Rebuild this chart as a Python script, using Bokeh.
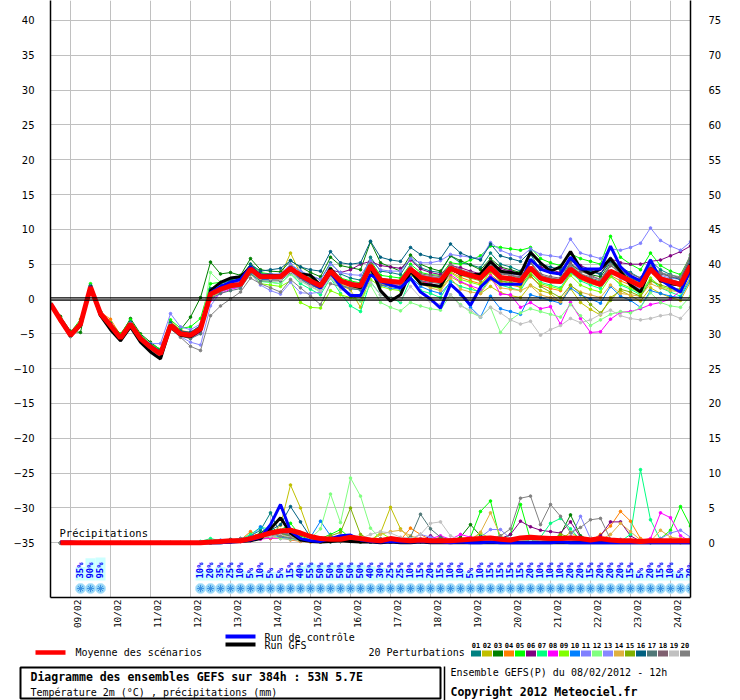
import math
from bokeh.plotting import figure
from bokeh.models import Range1d, LinearAxis, FixedTicker, Span, Label, ColumnDataSource
from bokeh.layouts import column
from bokeh.embed import file_html
from bokeh.resources import INLINE
from bokeh.core.properties import value

# ---------------------------------------------------------------- data
forecast_hours = list(range(0, 385, 6))          # hours after 08/02/2012 12h
precip_hours = forecast_hours[1:]
date_labels = ["09/02", "10/02", "11/02", "12/02", "13/02", "14/02", "15/02", "16/02",
               "17/02", "18/02", "19/02", "20/02", "21/02", "22/02", "23/02", "24/02"]
date_hours = [12 + 24 * k for k in range(len(date_labels))]
temp_ticks = list(range(-35, 45, 5))
precip_ticks = list(range(0, 80, 5))

mean_temp = [-0.7, -3.0, -5.2, -3.6, 1.7, -2.1, -3.8, -5.6, -3.6, -5.7, -6.9, -7.9, -3.8,
             -5.0, -5.2, -4.3, 0.7, 1.4, 1.9, 2.1, 4.3, 3.2, 3.2, 3.2, 4.4, 3.4, 2.6, 1.9, 4.0,
             2.6, 2.1, 1.9, 4.8, 2.7, 2.5, 2.4, 4.3, 3.1, 2.8, 2.6, 4.4, 3.8, 3.4, 3.0, 4.5,
             3.1, 2.9, 2.6, 4.5, 3.0, 2.6, 2.5, 4.3, 3.2, 2.6, 2.1, 4.0, 3.3, 2.6, 1.9, 4.3,
             2.9, 2.5, 2.1, 4.8]
control_temp = [-0.7, -3.0, -5.1, -3.5, 1.8, -2.0, -3.7, -5.5, -3.5, -5.6, -6.8, -7.8, -3.7,
                -4.9, -5.1, -4.2, 0.9, 1.8, 2.4, 2.8, 4.6, 3.4, 3.3, 3.2, 4.6, 3.2, 2.4, 1.6, 3.8,
                1.8, 0.5, 0.5, 3.5, 2.5, 2.0, 1.6, 3.0, 1.0, 0.0, -1.3, 2.1, 0.8, -0.9, 1.7, 3.1,
                2.1, 2.1, 2.1, 5.7, 4.3, 3.8, 3.6, 6.0, 4.3, 4.3, 4.3, 7.6, 4.6, 3.3, 2.6, 5.6,
                2.8, 1.8, 1.0, 4.2]
gfs_temp = [-0.7, -3.1, -5.3, -3.8, 1.9, -2.4, -4.4, -6.0, -4.0, -6.2, -7.6, -8.6, -4.0,
            -5.2, -5.4, -4.5, 1.2, 2.4, 3.0, 3.2, 4.6, 3.4, 3.4, 3.3, 4.2, 3.6, 3.4, 2.0, 4.4,
            2.6, 2.0, 1.6, 4.6, 1.2, -0.3, 0.6, 4.0, 2.2, 2.0, 1.8, 4.4, 3.6, 3.4, 3.6, 5.4,
            4.0, 3.8, 3.6, 6.7, 5.2, 4.0, 4.6, 6.8, 4.4, 3.6, 4.3, 5.8, 4.0, 2.0, 1.0, 4.4,
            2.6, 2.2, 2.0, 5.0]

t01 = [-0.7, -2.8, -5.0, -3.4, 1.9, -2.0, -3.6, -5.3, -3.3, -5.5, -6.6, -7.5, -3.5, -4.6, -4.8, -3.8, 1.5,
       2.2, 2.6, 2.8, 4.6, 3.6, 3.5, 3.4, 4.9, 4.0, 3.3, 2.8, 5.2, 3.6, 3.0, 2.7, 6.0, 4.0, 3.8, 3.5, 5.8,
       4.5, 4.0, 3.8, 6.2, 5.2, 4.9, 4.5, 6.6, 5.0, 4.6, 4.0, 6.4, 4.2, 3.8, 3.5, 5.6, 4.6, 4.0, 3.5, 5.8,
       4.5, 3.8, 3.0, 5.5, 4.2, 3.5, 3.0, 6.0]
t02 = [-0.6, -3.2, -5.4, -3.8, 1.5, -2.3, -4.0, -5.8, -3.8, -5.9, -7.2, -8.2, -4.2, -5.3, -5.6, -4.8, 0.2,
       1.0, 1.6, 1.9, 4.2, 3.0, 3.1, 3.3, 6.6, 3.6, 2.4, 1.5, 3.5, 2.0, 1.3, -1.2, 3.8, 2.3, 2.0, 1.8, 3.9,
       2.6, 2.2, 1.4, 3.2, 2.4, 1.8, 0.8, 1.8, 0.9, 0.5, 0.2, 2.0, 1.2, 0.8, -0.5, 1.5, -0.5, -1.5, -2.3, 0.2,
       1.2, 0.5, -0.3, 1.6, 0.8, 0.2, -0.2, 2.5]
t03 = [-0.8, -2.5, -4.6, -4.8, 2.0, -1.8, -3.5, -5.2, -2.8, -5.0, -6.2, -7.3, -3.4, -4.4, -2.6, 0.2, 5.3,
       3.6, 3.8, 3.4, 5.8, 4.2, 4.0, 3.9, 5.5, 4.6, 3.8, 3.2, 6.0, 4.8, 4.5, 4.2, 8.2, 5.2, 4.6, 4.0, 6.3,
       5.0, 4.4, 4.0, 6.2, 5.5, 4.9, 4.2, 5.8, 4.6, 4.2, 3.8, 5.5, 4.4, 4.0, 3.6, 5.0, 4.0, 3.5, 3.2, 5.2,
       3.8, 3.0, 2.4, 5.0, 3.0, 2.5, 2.0, 4.6]
t04 = [-0.7, -3.0, -5.1, -3.5, 1.6, -1.9, -2.9, -5.2, -3.4, -5.4, -6.6, -7.6, -3.2, -4.5, -4.8, -3.9, 0.9,
       1.2, 1.8, 2.2, 4.4, 3.0, 2.8, 2.7, 4.2, 3.0, 2.3, 1.6, 3.8, 2.3, 1.8, 1.6, 4.5, 2.2, 2.0, 1.8, 3.6,
       2.5, 2.1, 1.9, 3.9, 3.1, 2.6, 2.2, 3.5, 2.4, 2.0, 1.7, 3.2, 2.0, 1.5, 1.2, 3.8, 2.8, 2.2, 1.8, 3.4,
       2.6, 2.0, 1.4, 3.8, 2.5, 2.1, 1.8, 4.0]
t05 = [-0.6, -2.7, -4.8, -2.9, 2.2, -1.8, -3.4, -5.0, -3.0, -5.2, -6.4, -7.2, -3.0, -4.2, -4.0, -2.8, 2.2,
       2.4, 2.8, 3.0, 5.0, 3.8, 3.6, 3.4, 4.6, 3.6, 2.9, 2.2, 4.4, 3.0, 2.6, 2.3, 5.5, 3.4, 3.2, 3.0, 5.0,
       3.8, 3.5, 3.4, 5.2, 5.0, 5.6, 6.2, 7.6, 7.4, 7.2, 7.0, 7.4, 5.8, 5.2, 4.8, 6.5, 5.8, 5.4, 5.0, 9.0,
       6.0, 5.0, 4.2, 6.6, 4.8, 4.0, 3.5, 6.2]
t06 = [-0.7, -3.1, -5.3, -3.7, 1.8, -2.2, -3.9, -5.7, -3.7, -5.8, -7.0, -8.0, -4.0, -5.1, -5.4, -4.5, 0.4,
       1.2, 1.7, 2.0, 4.0, 3.0, 3.0, 3.0, 4.1, 3.2, 2.5, 1.8, 4.2, 3.8, 4.2, 5.0, 5.4, 4.8, 4.6, 4.4, 5.6,
       4.3, 3.8, 3.5, 4.8, 4.5, 4.0, 3.6, 5.0, 4.4, 4.0, 3.6, 5.4, 4.6, 4.2, 3.8, 5.6, 4.8, 4.2, 3.6, 5.8,
       5.2, 5.0, 5.0, 5.4, 5.6, 6.2, 6.8, 7.6]
t07 = [-0.8, -3.0, -5.0, -3.3, 1.9, -2.0, -3.7, -5.4, -3.4, -5.6, -6.8, -7.7, -3.6, -4.8, -5.0, -4.0, 1.2,
       1.6, 1.9, 2.0, 3.8, 2.5, 2.4, 2.2, 3.6, 2.2, 1.4, 0.6, 3.0, 0.8, -1.0, -1.8, 2.5, 0.6, 0.2, -0.5, 2.8,
       1.2, 0.8, 0.2, 2.6, 1.8, 1.4, 1.0, 3.0, 2.0, 1.6, 1.2, 3.6, 2.4, 2.0, 1.6, 3.8, 2.6, 2.0, 1.5, 3.4,
       2.0, 1.4, 0.6, 2.8, 1.6, 1.0, 0.4, 3.2]
t08 = [-0.7, -3.0, -5.2, -3.6, 1.6, -2.1, -3.9, -5.6, -3.6, -5.8, -7.0, -8.0, -4.0, -5.2, -5.6, -4.8, -0.2,
       0.8, 1.4, 1.7, 4.0, 3.0, 3.1, 3.2, 4.4, 3.4, 2.6, 1.8, 4.0, 2.6, 2.0, 1.6, 4.6, 2.4, 2.2, 2.0, 4.0,
       2.6, 2.2, 1.8, 3.5, 2.5, 1.9, 1.4, 3.3, 0.7, 0.6, -1.2, -0.5, -1.4, -1.1, -3.6, -0.5, -2.8, -4.8, -4.7, -2.9,
       -1.9, -1.8, -1.4, -0.8, -0.5, 0.0, 1.2, 3.6]
t09 = [-0.6, -2.9, -5.0, -3.4, 1.8, -2.0, -3.6, -5.4, -3.4, -5.5, -6.8, -7.8, -3.6, -4.8, -5.0, -4.2, 0.6,
       1.2, 1.6, 1.8, 3.6, 2.2, 2.0, 1.8, 2.6, -0.5, -1.2, -1.3, 1.2, 0.6, 0.2, -0.2, 2.8, 1.8, 1.4, 1.2, 3.5,
       2.2, 1.8, 1.5, 3.8, 2.8, 2.4, 2.0, 4.0, 2.6, 2.2, 1.8, 3.8, 2.2, 1.8, 1.4, 3.4, 2.0, 1.4, 1.0, 3.2,
       2.2, 1.6, 0.8, 3.0, 1.8, 1.4, 1.0, 3.8]
t10 = [-0.7, -3.0, -5.3, -3.7, 1.6, -2.2, -3.8, -5.6, -3.6, -5.7, -6.9, -7.9, -3.9, -5.1, -5.4, -4.6, 0.4,
       1.1, 1.6, 1.8, 3.9, 2.8, 2.8, 2.8, 4.0, 2.9, 2.1, 1.4, 3.5, 2.0, 1.5, 1.3, 4.0, 2.0, 1.6, 1.4, 3.2,
       1.8, 1.2, 0.8, 2.4, 0.6, -1.2, -2.6, 0.4, -1.4, -1.8, -2.2, 0.6, 0.2, -0.2, -0.6, 1.6, 0.6, 0.0, -0.6, 1.8,
       0.4, -0.2, -1.2, 1.2, 0.8, 0.4, 0.2, 2.8]
t11 = [-0.7, -2.9, -5.0, -3.4, 1.8, -2.0, -3.6, -5.3, -3.4, -5.4, -6.4, -6.4, -2.1, -4.0, -4.4, -3.6, 1.0,
       1.8, 2.2, 2.5, 4.5, 3.5, 3.6, 3.6, 5.0, 4.0, 3.4, 2.8, 5.0, 3.8, 3.5, 3.4, 5.5, 4.2, 4.0, 4.0, 5.8,
       5.2, 5.2, 5.5, 6.4, 6.2, 6.0, 5.8, 8.1, 7.0, 6.4, 6.0, 7.2, 6.4, 6.2, 6.0, 8.6, 6.6, 6.2, 5.8, 7.2,
       7.0, 7.4, 8.0, 10.2, 8.4, 7.6, 7.0, 8.2]
t12 = [-0.7, -3.0, -5.2, -3.6, 1.7, -2.0, -3.8, -5.6, -3.6, -5.8, -7.0, -8.0, -3.9, -5.0, -5.4, -4.4, 3.8,
       2.4, 2.0, 1.8, 3.8, 2.6, 2.4, 2.2, 3.6, 2.6, 1.8, 1.0, 3.2, 1.5, 0.6, -0.3, 2.0, -0.5, -1.2, -1.7, -0.5,
       -1.0, -1.4, -1.6, 0.6, -0.8, -1.9, -2.6, -1.2, -4.8, -3.0, -2.0, -1.4, -1.8, -2.2, -2.6, -0.8, -2.4, -3.8, -3.0, -2.2,
       -1.8, -2.0, -1.2, 0.9, -0.5, -1.0, -1.2, 0.4]
t13 = [-0.7, -3.1, -5.3, -3.8, 1.4, -2.3, -4.0, -5.8, -3.8, -5.9, -7.2, -8.2, -4.2, -5.4, -6.2, -6.6, -1.0,
       1.0, 1.6, 1.9, 3.8, 2.0, 1.2, 0.7, 2.4, 0.9, 0.8, 1.0, 3.4, 2.4, 1.9, 1.6, 4.2, 2.4, 2.2, 2.0, 4.6,
       3.4, 3.2, 3.0, 4.4, 3.6, 3.2, 2.8, 4.4, 3.8, 3.6, 3.4, 4.2, 3.0, 2.6, 2.4, 4.4, 3.2, 2.8, 2.4, 4.0,
       3.0, 2.2, 1.4, 3.8, 3.4, 3.0, 2.8, 5.4]
t14 = [-0.7, -3.0, -5.2, -3.5, 1.7, -2.1, -3.7, -5.5, -3.5, -5.6, -6.8, -7.8, -3.8, -4.9, -5.2, -4.2, 0.8,
       1.5, 2.0, 2.2, 4.3, 3.1, 3.0, 3.0, 4.2, 3.0, 2.2, 1.5, 3.6, 2.2, 1.6, 1.4, 4.0, 2.2, 1.8, 1.6, 3.6,
       2.2, 1.6, 1.2, 3.0, 1.4, 1.0, 0.8, 2.8, 1.6, 1.4, 1.2, 1.9, 0.6, 0.2, -0.4, 1.9, 1.0, 0.6, 0.2, 2.0,
       0.8, 0.6, 0.4, 2.2, 1.6, 1.2, 1.0, 3.0]
t15 = [-0.7, -3.0, -5.1, -3.6, 1.7, -2.1, -3.8, -5.6, -3.6, -5.7, -6.9, -7.9, -3.8, -5.0, -5.2, -4.3, 0.8,
       1.4, 1.9, 2.1, 4.3, 3.2, 3.2, 3.2, 4.6, 3.5, 2.8, 2.1, 4.2, 2.8, 2.3, 2.1, 5.0, 2.9, 2.7, 2.5, 4.4,
       3.1, 2.7, 2.5, 4.2, 3.4, 3.0, 2.6, 4.0, 2.6, 2.4, 2.1, 3.4, 1.8, 1.0, 0.2, 2.0, 0.8, -0.8, -2.0, -0.2,
       1.4, 1.0, 0.4, 2.6, 2.0, 1.6, 1.4, 4.4]
t16 = [-0.7, -2.9, -5.0, -3.4, 1.9, -1.9, -3.5, -5.3, -3.3, -5.4, -6.5, -7.4, -3.4, -4.6, -4.8, -3.8, 1.4,
       2.2, 2.8, 3.0, 5.0, 4.0, 4.2, 4.4, 5.5, 4.6, 4.2, 4.0, 6.8, 5.2, 5.0, 5.2, 8.3, 6.0, 5.6, 5.4, 7.4,
       6.4, 6.0, 5.8, 7.9, 6.6, 6.0, 5.6, 7.9, 6.2, 5.8, 5.4, 6.8, 5.0, 4.6, 4.2, 5.6, 4.4, 4.0, 3.6, 5.4,
       4.0, 3.2, 2.6, 4.6, 3.8, 3.2, 2.8, 5.6]
t17 = [-0.7, -3.0, -5.3, -3.8, 1.6, -2.2, -3.9, -5.8, -3.8, -6.0, -7.2, -8.2, -4.1, -5.3, -5.7, -5.0, 0.1,
       0.8, 1.2, 1.5, 3.6, 2.6, 2.6, 2.6, 3.8, 2.8, 2.0, 1.4, 3.4, 2.0, 1.5, 1.3, 4.1, 2.0, 1.9, 1.8, 3.8,
       2.6, 2.4, 2.2, 4.6, 4.0, 3.6, 3.4, 5.4, 3.6, 3.4, 3.0, 5.2, 3.4, 3.0, 2.8, 5.0, 3.6, 3.0, 2.6, 4.8,
       3.8, 3.2, 2.4, 5.0, 3.2, 2.8, 2.4, 5.2]
t18 = [-0.7, -3.0, -5.2, -3.7, 1.7, -2.1, -3.8, -5.7, -3.7, -5.8, -7.0, -8.0, -3.9, -5.0, -5.3, -4.4, 0.6,
       1.3, 1.8, 2.0, 4.2, 3.2, 3.2, 3.1, 4.3, 3.3, 2.6, 1.9, 4.1, 2.8, 2.4, 2.2, 5.0, 3.0, 2.8, 2.6, 4.5,
       3.6, 3.4, 3.2, 5.0, 4.2, 3.8, 3.5, 5.0, 3.8, 3.4, 3.2, 5.2, 3.6, 3.2, 3.0, 5.2, 4.0, 3.4, 2.8, 4.8,
       4.0, 3.6, 3.0, 5.0, 3.6, 3.2, 3.0, 6.0]
t19 = [-0.7, -3.0, -5.2, -3.6, 1.8, -2.0, -3.7, -5.5, -3.5, -5.6, -6.8, -7.8, -3.7, -4.9, -5.1, -4.2, 0.9,
       1.6, 2.0, 2.2, 4.3, 3.0, 2.9, 2.8, 3.9, 2.6, 1.8, 1.2, 3.0, 1.4, 0.8, 0.4, 2.4, 0.6, 0.2, -0.2, 1.8,
       0.2, -0.4, -0.8, 0.6, -1.0, -1.6, -2.6, -1.2, -2.0, -3.0, -3.6, -3.2, -5.2, -4.4, -3.8, -2.8, -3.4, -3.0, -2.2, -1.6,
       -2.4, -2.8, -3.0, -2.8, -2.4, -2.2, -2.8, -1.2]
t20 = [-0.7, -3.1, -5.4, -3.8, 1.5, -2.3, -4.1, -5.9, -3.9, -6.0, -7.3, -8.3, -4.3, -5.5, -6.8, -7.4, -2.4,
       -1.0, 0.0, 1.0, 3.0, 2.2, 1.6, 1.0, 2.8, 1.6, 0.4, -0.8, 2.2, 1.8, 1.6, 1.6, 4.4, 2.6, 2.4, 2.2, 4.0,
       3.4, 3.2, 3.0, 4.8, 3.6, 3.2, 2.8, 4.6, 3.8, 3.4, 3.0, 5.4, 3.4, 3.0, 2.6, 4.8, 3.6, 3.2, 2.8, 5.0,
       3.4, 2.8, 2.2, 4.8, 3.8, 3.4, 3.2, 6.4]

mean_prec = [0, 0, 0, 0, 0, 0, 0, 0, 0, 0, 0, 0, 0, 0, 0, 0.1,
             0.2, 0.3, 0.3, 0.6, 1.0, 1.4, 1.7, 1.8, 1.4, 0.9, 0.6, 0.5, 0.5, 0.8, 0.6, 0.4,
             0.3, 0.6, 0.4, 0.3, 0.4, 0.3, 0.3, 0.3, 0.4, 0.5, 0.6, 0.7, 0.5, 0.4, 0.7, 0.8,
             0.7, 0.6, 0.6, 0.7, 0.6, 0.4, 0.6, 0.4, 0.3, 0.3, 0.2, 0.3, 0.3, 0.3, 0.3, 0.3]
control_prec = [0.1, 0.1, 0, 0, 0, 0, 0, 0, 0, 0, 0, 0, 0, 0, 0, 0,
                0.0, 0.1, 0.2, 0.4, 0.8, 2.6, 5.5, 1.7, 0.6, 0.3, 0.2, 0.6, 1.0, 1.1, 0.4, 0.2,
                0.1, 0.2, 0.1, 0.1, 0.2, 0.1, 0.1, 0.0, 0.1, 0.0, 0.0, 0.1, 0.0, 0.0, 0.0, 0.0,
                0.0, 0.0, 0.1, 0.0, 0.0, 0.0, 0.0, 0.0, 0.0, 0.0, 0.0, 0.0, 0.0, 0.0, 0.0, 0.0]
gfs_prec = [0, 0, 0, 0, 0, 0, 0, 0, 0, 0, 0, 0, 0, 0, 0, 0,
            0.0, 0.1, 0.2, 0.3, 0.6, 2.0, 3.6, 1.4, 0.4, 0.2, 0.1, 0.2, 0.3, 0.2, 0.1, 0.1,
            0.0, 0.1, 0.0, 0.0, 0.1, 0.0, 0.0, 0.0, 0.0, 0.0, 0.0, 0.0, 0.0, 0.0, 0.0, 0.0,
            0.0, 0.0, 0.0, 0.0, 0.0, 0.0, 0.0, 0.0, 0.0, 0.0, 0.0, 0.0, 0.0, 0.0, 0.0, 0.0]

p01 = [0, 0, 0, 0, 0, 0, 0, 0, 0, 0, 0, 0, 0, 0, 0, 0.1, 0.2, 0.5, 0.4, 1.0, 1.8, 4.3, 1.2, 0.8,
       0.4, 0.3, 0.2, 0.1, 0.2, 0.4, 0.3, 0.2, 0.1, 0.2, 0.3, 0.1, 0.2, 0.1, 0.1, 0.2,
       0.3, 0.5, 0.8, 0.4, 0.2, 0.1, 0.3, 0.4, 0.3, 0.2, 0.2, 0.4, 0.3, 0.2, 0.1, 0.1,
       0.1, 0.2, 0.1, 0.0, 0.1, 0.2, 0.1, 0.1]
p02 = [0, 0, 0, 0, 0, 0, 0, 0, 0, 0, 0, 0, 0, 0, 0, 0, 0.1, 0.2, 0.2, 0.3, 0.6, 1.2, 2.5, 8.3,
       5.0, 1.0, 0.4, 0.2, 0.3, 0.2, 0.1, 0.2, 1.4, 5.1, 2.0, 0.5, 0.2, 0.1, 0.3, 0.2,
       0.1, 0.2, 0.3, 0.1, 0.1, 0.2, 0.3, 0.2, 0.1, 0.2, 0.4, 1.5, 0.6, 0.2, 0.1, 0.1,
       0.2, 0.3, 0.1, 0.2, 0.1, 0.1, 0.0, 0.1]
p03 = [0, 0, 0, 0, 0, 0, 0, 0, 0, 0, 0, 0, 0, 0, 0, 0.2, 0.3, 0.4, 0.6, 0.8, 1.4, 2.5, 1.0, 0.6,
       0.3, 0.2, 0.1, 0.2, 0.3, 0.2, 0.1, 0.1, 0.2, 0.3, 0.2, 0.1, 0.2, 0.4, 0.6, 0.3,
       0.8, 2.6, 1.0, 0.5, 0.3, 0.2, 0.4, 0.3, 0.2, 0.3, 1.2, 4.0, 1.0, 0.4, 0.2, 0.1,
       0.1, 0.2, 0.1, 0.1, 0.2, 0.3, 0.2, 0.1]
p04 = [0, 0, 0, 0, 0, 0, 0, 0, 0, 0, 0, 0, 0, 0, 0, 0.1, 0.1, 0.2, 0.4, 1.6, 0.8, 0.6, 0.8, 0.4,
       0.2, 0.1, 0.1, 0.2, 0.2, 0.3, 0.2, 0.1, 0.1, 0.2, 0.4, 2.1, 1.2, 0.4, 0.8, 0.3,
       0.2, 0.4, 0.2, 0.1, 0.2, 0.2, 0.3, 0.2, 0.1, 0.2, 0.3, 0.6, 0.4, 0.3, 1.2, 2.4,
       4.5, 3.1, 0.6, 0.2, 0.1, 0.3, 0.5, 0.2]
p05 = [0, 0, 0, 0, 0, 0, 0, 0, 0, 0, 0, 0, 0, 0, 0.1, 0.1, 0.3, 0.2, 0.4, 0.6, 1.0, 1.4, 1.8, 2.8,
       1.0, 0.4, 0.6, 1.2, 1.9, 0.6, 0.3, 0.2, 0.1, 0.2, 0.3, 0.2, 0.3, 0.2, 0.1, 0.2,
       0.4, 0.8, 4.5, 6.0, 0.3, 1.2, 5.5, 0.4, 0.5, 0.4, 0.2, 0.3, 0.6, 0.3, 0.2, 0.1,
       0.2, 0.1, 0.2, 0.4, 0.6, 1.8, 5.2, 2.4]
p06 = [0, 0, 0, 0, 0, 0, 0, 0, 0, 0, 0, 0, 0, 0, 0, 0, 0.1, 0.1, 0.2, 0.4, 0.6, 0.8, 1.2, 0.8,
       0.4, 0.3, 0.5, 0.2, 0.3, 0.4, 0.2, 0.1, 0.2, 0.1, 0.3, 0.4, 0.2, 1.0, 0.3, 0.2,
       0.1, 0.2, 0.1, 0.3, 0.6, 1.2, 3.1, 2.3, 1.8, 1.6, 1.4, 3.0, 0.8, 0.3, 1.0, 3.0,
       3.0, 1.0, 0.2, 0.1, 0.3, 0.2, 0.1, 0.2]
p07 = [0, 0, 0, 0, 0, 0, 0, 0, 0, 0, 0, 0, 0, 0, 0.2, 0.6, 0.3, 0.2, 0.5, 1.2, 2.2, 2.0, 1.4, 0.8,
       0.4, 0.3, 0.2, 0.3, 0.2, 0.4, 0.3, 0.2, 0.1, 0.2, 0.1, 0.2, 0.3, 0.2, 0.3, 0.2,
       0.1, 0.2, 0.4, 0.3, 0.2, 0.3, 0.4, 0.3, 0.8, 2.8, 3.5, 2.0, 0.4, 0.3, 0.2, 0.3,
       0.2, 1.2, 10.5, 3.3, 0.4, 0.2, 0.1, 0.3]
p08 = [0, 0, 0, 0, 0, 0, 0, 0, 0, 0, 0, 0, 0, 0, 0, 0, 0.1, 0.1, 0.2, 0.3, 0.5, 0.7, 0.6, 0.5,
       0.3, 0.2, 0.4, 0.3, 0.2, 0.5, 0.3, 0.2, 0.2, 0.3, 0.4, 0.2, 0.3, 0.6, 1.0, 0.5,
       1.2, 0.8, 0.4, 0.2, 0.1, 0.2, 0.3, 0.2, 0.1, 0.2, 0.3, 0.2, 0.1, 0.3, 0.2, 0.1,
       0.2, 0.4, 0.3, 0.6, 4.3, 3.6, 1.0, 0.2]
p09 = [0, 0, 0, 0, 0, 0, 0, 0, 0, 0, 0, 0, 0, 0, 0, 0.1, 0.2, 0.3, 0.4, 0.6, 0.9, 1.2, 1.6, 1.0,
       0.4, 0.2, 0.3, 0.4, 0.2, 0.3, 0.2, 0.3, 1.5, 0.6, 0.3, 0.2, 0.2, 0.1, 0.2, 0.3,
       0.2, 0.4, 1.4, 0.6, 0.3, 0.2, 0.2, 0.4, 0.3, 0.2, 0.1, 0.2, 0.3, 0.4, 0.2, 0.1,
       0.1, 0.2, 0.2, 0.1, 0.3, 0.2, 0.4, 0.6]
p10 = [0, 0, 0, 0, 0, 0, 0, 0, 0, 0, 0, 0, 0, 0, 0, 0.1, 0.2, 0.3, 0.5, 0.8, 2.3, 1.2, 0.8, 0.6,
       0.4, 0.8, 3.1, 1.0, 0.3, 0.2, 0.2, 0.1, 0.2, 0.3, 0.2, 0.1, 0.2, 0.3, 0.2, 0.1,
       0.2, 0.3, 0.2, 0.1, 0.2, 0.2, 0.3, 0.2, 0.2, 0.1, 0.2, 0.3, 0.2, 0.1, 0.2, 0.2,
       0.1, 0.2, 0.1, 0.2, 0.1, 0.1, 0.2, 0.1]
p11 = [0, 0, 0, 0, 0, 0, 0, 0, 0, 0, 0, 0, 0, 0, 0, 0, 0.1, 0.2, 0.3, 0.4, 0.8, 1.0, 1.5, 1.2,
       0.6, 0.3, 0.2, 0.3, 0.4, 0.2, 0.3, 0.2, 0.3, 0.2, 0.1, 0.4, 0.6, 0.3, 0.2, 0.1,
       0.2, 0.3, 0.8, 1.9, 1.9, 0.6, 0.2, 0.3, 0.2, 0.4, 0.6, 0.8, 3.8, 0.6, 0.3, 0.4,
       0.5, 0.3, 0.2, 0.2, 0.6, 1.4, 1.8, 0.8]
p12 = [0, 0, 0, 0, 0, 0, 0, 0, 0, 0, 0, 0, 0, 0, 0, 0, 0.1, 0.2, 0.3, 0.5, 0.8, 1.0, 0.6, 0.5,
       0.3, 0.6, 2.0, 7.0, 2.9, 9.3, 6.7, 2.1, 0.6, 0.3, 0.2, 0.4, 0.3, 0.2, 0.3, 0.2,
       0.3, 0.2, 0.1, 0.3, 0.4, 0.2, 0.3, 0.4, 0.2, 0.3, 0.2, 0.1, 0.2, 0.3, 0.4, 0.2,
       0.1, 0.2, 0.3, 0.2, 0.4, 0.2, 0.1, 0.2]
p13 = [0, 0, 0, 0, 0, 0, 0, 0, 0, 0, 0, 0, 0, 0, 0.1, 0.2, 0.4, 0.3, 0.6, 0.8, 1.0, 1.6, 1.4, 1.9,
       0.6, 0.4, 0.2, 0.3, 0.4, 0.3, 0.2, 0.1, 0.2, 0.3, 0.6, 0.4, 1.2, 0.8, 0.4, 0.2,
       0.3, 0.2, 0.4, 0.3, 0.2, 0.1, 0.2, 0.3, 0.4, 0.2, 0.3, 0.5, 0.2, 0.3, 0.4, 0.2,
       0.3, 0.2, 0.1, 0.2, 0.3, 0.4, 0.2, 0.1]
p14 = [0, 0, 0, 0, 0, 0, 0, 0, 0, 0, 0, 0, 0, 0, 0, 0, 0.1, 0.2, 0.3, 0.4, 0.6, 0.9, 1.2, 0.8,
       0.4, 0.3, 0.2, 0.3, 0.4, 0.3, 0.2, 0.3, 1.2, 1.6, 1.8, 1.0, 0.5, 0.3, 0.2, 0.3,
       0.2, 0.4, 1.5, 4.3, 1.0, 0.3, 0.2, 0.4, 0.3, 0.2, 0.4, 0.6, 0.3, 0.2, 0.4, 1.2,
       2.8, 1.6, 0.4, 0.2, 1.8, 0.8, 0.6, 0.3]
p15 = [0, 0, 0, 0, 0, 0, 0, 0, 0, 0, 0, 0, 0, 0, 0, 0, 0.1, 0.2, 0.3, 0.6, 0.9, 1.1, 1.4, 0.9,
       0.4, 0.2, 0.3, 1.0, 1.5, 5.0, 1.2, 0.4, 0.2, 0.3, 0.2, 0.4, 0.2, 0.3, 0.2, 0.1,
       0.2, 0.3, 0.4, 0.2, 0.3, 0.2, 0.4, 0.3, 0.2, 0.3, 1.2, 0.8, 0.3, 0.2, 0.1, 0.2,
       0.3, 0.2, 0.1, 0.2, 0.3, 0.2, 0.1, 0.2]
p16 = [0, 0, 0, 0, 0, 0, 0, 0, 0, 0, 0, 0, 0, 0, 0, 0.1, 0.2, 0.3, 0.5, 0.8, 1.2, 1.8, 2.6, 5.2,
       3.0, 0.8, 0.4, 0.3, 0.2, 0.3, 0.2, 0.1, 0.2, 0.1, 0.2, 0.3, 0.2, 0.4, 0.6, 0.3,
       0.2, 0.4, 0.3, 0.2, 0.3, 0.2, 0.1, 0.2, 0.3, 0.2, 0.4, 0.3, 0.2, 0.1, 0.2, 0.3,
       0.2, 0.1, 0.3, 0.2, 0.4, 0.3, 0.2, 0.1]
p17 = [0, 0, 0, 0, 0, 0, 0, 0, 0, 0, 0, 0, 0, 0, 0, 0, 0.1, 0.2, 0.3, 0.4, 0.6, 0.9, 1.4, 1.0,
       0.6, 0.3, 0.2, 0.4, 0.3, 0.2, 0.3, 0.2, 0.1, 0.2, 0.4, 0.8, 4.1, 2.0, 0.8, 0.4,
       0.3, 0.2, 0.4, 0.3, 0.2, 0.3, 0.2, 0.1, 0.2, 0.3, 0.2, 0.1, 0.2, 0.3, 0.2, 0.2,
       0.1, 0.2, 0.3, 0.2, 0.1, 0.2, 0.3, 0.2]
p18 = [0, 0, 0, 0, 0, 0, 0, 0, 0, 0, 0, 0, 0, 0, 0, 0, 0.1, 0.2, 0.4, 0.6, 1.0, 1.2, 1.6, 1.2,
       0.5, 0.3, 0.2, 0.3, 0.4, 0.3, 0.2, 0.4, 0.6, 0.3, 0.2, 0.3, 0.2, 0.1, 0.2, 0.3,
       0.4, 0.6, 0.3, 0.2, 0.4, 0.3, 0.2, 0.3, 0.2, 0.4, 0.3, 0.2, 0.3, 0.4, 0.2, 0.3,
       0.2, 0.3, 0.2, 0.1, 0.2, 0.3, 0.2, 0.4]
p19 = [0, 0, 0, 0, 0, 0, 0, 0, 0, 0, 0, 0, 0, 0, 0, 0, 0.1, 0.2, 0.3, 0.5, 0.7, 0.9, 1.1, 0.8,
       0.4, 0.3, 0.2, 0.3, 0.2, 0.4, 0.6, 1.2, 1.6, 1.4, 0.8, 0.6, 1.2, 2.8, 3.0, 1.0,
       0.4, 0.3, 0.2, 0.3, 0.2, 0.4, 0.3, 0.2, 0.3, 0.2, 0.4, 0.3, 0.6, 0.8, 0.4, 0.2,
       0.3, 0.2, 0.1, 0.2, 0.3, 0.2, 0.1, 0.2]
p20 = [0, 0, 0, 0, 0, 0, 0, 0, 0, 0, 0, 0, 0, 0, 0, 0.1, 0.2, 0.4, 0.6, 0.8, 1.0, 1.4, 0.9, 0.7,
       0.4, 0.3, 0.2, 0.4, 0.3, 0.2, 0.3, 0.2, 0.3, 0.2, 0.4, 0.3, 0.2, 0.3, 0.2, 0.4,
       0.3, 0.2, 0.4, 0.6, 1.0, 2.0, 6.4, 6.7, 2.6, 5.5, 3.8, 1.4, 2.2, 3.3, 3.5, 0.5,
       0.4, 0.2, 0.3, 0.2, 0.1, 0.3, 0.2, 0.2]

member_temps = [t01, t02, t03, t04, t05, t06, t07, t08, t09, t10,
                t11, t12, t13, t14, t15, t16, t17, t18, t19, t20]
member_precs = [p01, p02, p03, p04, p05, p06, p07, p08, p09, p10,
                p11, p12, p13, p14, p15, p16, p17, p18, p19, p20]
member_ids = ["01", "02", "03", "04", "05", "06", "07", "08", "09", "10",
              "11", "12", "13", "14", "15", "16", "17", "18", "19", "20"]

# snow probability (percent) by forecast hour
snow_hours_a = [18, 24, 30]
snow_prob_a = [35, 90, 95]
snow_hours_b = list(range(90, 385, 6))
snow_prob_b = [10, 20, 35, 25, 10, 5, 10, 5, 5, 15,
               40, 55, 50, 50, 50, 50, 50, 40, 30, 25,
               25, 10, 15, 20, 15, 10, 10, 5, 10, 15,
               15, 15, 15, 20, 10, 10, 10, 20, 20, 15,
               20, 20, 20, 15, 5, 20, 15, 10, 5, 20]

for s in member_temps + [mean_temp, control_temp, gfs_temp]:
    assert len(s) == len(forecast_hours), len(s)
for s in member_precs + [mean_prec, control_prec, gfs_prec]:
    assert len(s) == len(precip_hours), len(s)
assert len(snow_prob_b) == len(snow_hours_b)

# ---------------------------------------------------------------- styles
member_colors = ["#008080", "#c0c000", "#008000", "#ff8000", "#00ff00", "#800080", "#00ff80",
                 "#ff00ff", "#80ff00", "#0080ff", "#8080ff", "#80ff80", "#8888ff", "#e0b040",
                 "#80b000", "#006080", "#507878", "#806070", "#c0c0c0", "#808080"]
MONO = "DejaVu Sans Mono"
SANS = "DejaVu Sans"
PX_PER_DEG = 7.0
Y_BOT = 40 - 580 / PX_PER_DEG      # frame bottom  (page y = 600)
Y_TOP = 40 + 20 / PX_PER_DEG       # frame top     (page y = 0)
H_PER_PX = 384 / 640.0
MAIN_H = 631


def ty(page_y):
    return 40 - (page_y - 20) / PX_PER_DEG


def tx(page_x):
    return (page_x - 50) * H_PER_PX


def no_frame_align(fig):
    if "frame_align" in fig.properties():
        fig.frame_align = False


# ---------------------------------------------------------------- main figure
p = figure(width=740, height=MAIN_H, x_range=Range1d(0, 384), y_range=Range1d(Y_BOT, Y_TOP),
           output_backend="svg", toolbar_location=None,
           min_border_left=50, min_border_right=50, min_border_top=0,
           min_border_bottom=MAIN_H - 600)
p.outline_line_color = None
p.extra_y_ranges = {"mm": Range1d(Y_BOT + 35, Y_TOP + 35)}
no_frame_align(p)


def style_axis(ax):
    ax.major_tick_in = 0
    ax.major_tick_out = 0
    ax.minor_tick_in = 0
    ax.minor_tick_out = 0
    ax.axis_line_color = "black"
    ax.axis_line_width = 1.5
    ax.major_label_text_color = "black"


yax = p.yaxis[0]
yax.ticker = FixedTicker(ticks=temp_ticks)
style_axis(yax)
yax.major_label_standoff = 16
yax.major_label_text_font = SANS
yax.major_label_text_font_size = "10px"

rax = LinearAxis(y_range_name="mm", ticker=FixedTicker(ticks=precip_ticks))
style_axis(rax)
rax.major_label_standoff = 18
rax.major_label_text_font = SANS
rax.major_label_text_font_size = "10px"
p.add_layout(rax, "right")

xax = p.xaxis[0]
label_ticks = [h + 4 for h in date_hours]
xax.ticker = FixedTicker(ticks=label_ticks)
xax.major_label_overrides = {t: d for t, d in zip(label_ticks, date_labels)}
xax.major_label_orientation = math.pi / 2
xax.major_label_standoff = 2
xax.major_label_text_font = MONO
xax.major_label_text_font_size = "9.5px"
style_axis(xax)

p.xgrid.ticker = FixedTicker(ticks=date_hours)
p.xgrid.grid_line_color = "#c0c0c0"
p.ygrid.grid_line_color = "#c0c0c0"
p.xgrid.grid_line_width = 1
p.ygrid.grid_line_width = 1

for loc in (0.15, -0.15):
    p.add_layout(Span(location=loc, dimension="width", line_color="black", line_width=1.2))

# snow probability boxes / labels / flakes
snow_hours = snow_hours_a + snow_hours_b
snow_probs = snow_prob_a + snow_prob_b
snow_src = ColumnDataSource(dict(
    x=snow_hours,
    top=[ty(583) + (8 + 16 * v / 100.0) / PX_PER_DEG for v in snow_probs],
    lab=["%d%%" % v for v in snow_probs]))
p.vbar(x="x", width=6, bottom=ty(583), top="top", source=snow_src,
       fill_color="#ccffff", line_color=None)
p.scatter(x="x", y=ty(591), source=snow_src, marker="circle", size=10,
          fill_color="#94d4f6", line_color="#b8e6fb", line_width=1)
p.scatter(x="x", y=ty(591), source=snow_src, marker="asterisk", size=7,
          line_color="#3f93e3", line_width=1)
p.text(x="x", y=ty(581), text="lab", source=snow_src, angle=math.pi / 2,
       text_align="left", text_baseline="middle", x_offset=-1,
       text_font=value(MONO), text_font_style="bold", text_font_size="9px",
       text_color="#0000ff")

# ensemble members: temperature and precipitation
for vals, col in zip(member_temps, member_colors):
    p.line(forecast_hours, vals, line_color=col, line_width=1)
    p.scatter(forecast_hours, vals, marker="circle", size=2.6, color=col)
for vals, col in zip(member_precs, member_colors):
    p.line(precip_hours, vals, line_color=col, line_width=1, y_range_name="mm")
    p.scatter(precip_hours, vals, marker="circle", size=2.6, color=col, y_range_name="mm")

p.line(forecast_hours, gfs_temp, line_color="black", line_width=3)
p.line(forecast_hours, control_temp, line_color="#0000ff", line_width=3)
p.line(precip_hours, gfs_prec, line_color="black", line_width=3, y_range_name="mm")
p.line(precip_hours, control_prec, line_color="#0000ff", line_width=3, y_range_name="mm")
p.line(forecast_hours, mean_temp, line_color="#ff0000", line_width=5)
p.line(precip_hours, mean_prec, line_color="#ff0000", line_width=5, y_range_name="mm")

p.add_layout(Label(x=tx(59), y=ty(535.5), text="Précipitations", text_font=MONO,
                   text_font_size="10.5px", text_baseline="middle", text_align="left",
                   text_color="black"))
p.add_layout(Label(x=tx(20), y=ty(607), text="(°C)", text_font=MONO,
                   text_font_size="10px", text_baseline="middle", text_align="left",
                   text_color="black"))
p.add_layout(Label(x=tx(710), y=ty(607), text="(mm)", text_font=MONO,
                   text_font_size="10px", text_baseline="middle", text_align="left",
                   text_color="black"))

# ---------------------------------------------------------------- legend / caption strip
q = figure(width=740, height=700 - MAIN_H, x_range=Range1d(0, 740), y_range=Range1d(700, MAIN_H),
           output_backend="svg", toolbar_location=None, x_axis_type=None, y_axis_type=None,
           min_border_left=0, min_border_right=0, min_border_top=0, min_border_bottom=0)
q.outline_line_color = None
q.xgrid.visible = False
q.ygrid.visible = False
no_frame_align(q)


def qtext(x, y, s, size="10px", bold=False, align="left"):
    q.text(x=[x], y=[y], text=[s], text_font=value(MONO), text_font_size=size,
           text_font_style="bold" if bold else "normal", text_align=align,
           text_baseline="middle", text_color="black")


q.rect(x=[50], y=[652], width=30, height=4.5, fill_color="#ff0000", line_color=None)
qtext(75, 652, "Moyenne des scénarios")
q.rect(x=[240], y=[636], width=30, height=4, fill_color="#0000ff", line_color=None)
qtext(264, 637, "Run de contrôle")
q.rect(x=[240], y=[644], width=30, height=4, fill_color="black", line_color=None)
qtext(264, 645, "Run GFS")
qtext(368, 652, "20 Perturbations")
sw_x = [475.5 + 11 * k for k in range(len(member_ids))]
q.rect(x=sw_x, y=[653] * len(sw_x), width=10, height=6, fill_color=member_colors, line_color=None)
q.text(x=sw_x, y=[644] * len(sw_x), text=member_ids, text_font=value(MONO),
       text_font_size="7px", text_font_style="bold", text_align="center",
       text_baseline="middle", text_color="black")

q.rect(x=[230], y=[682.5], width=420, height=31, fill_color=None, line_color="black", line_width=2)
qtext(30, 676.5, "Diagramme des ensembles GEFS sur 384h : 53N 5.7E", size="11.5px", bold=True)
qtext(30, 691.5, "Température 2m (°C) , précipitations (mm)")
q.segment(x0=[444], y0=[666], x1=[444], y1=[700], line_color="black", line_width=1.5)
qtext(450, 672, "Ensemble GEFS(P) du 08/02/2012 - 12h")
qtext(450, 691.5, "Copyright 2012 Meteociel.fr", size="11.5px", bold=True)

layout = column(p, q, spacing=0)
open("out.html", "w").write(file_html(layout, INLINE))
